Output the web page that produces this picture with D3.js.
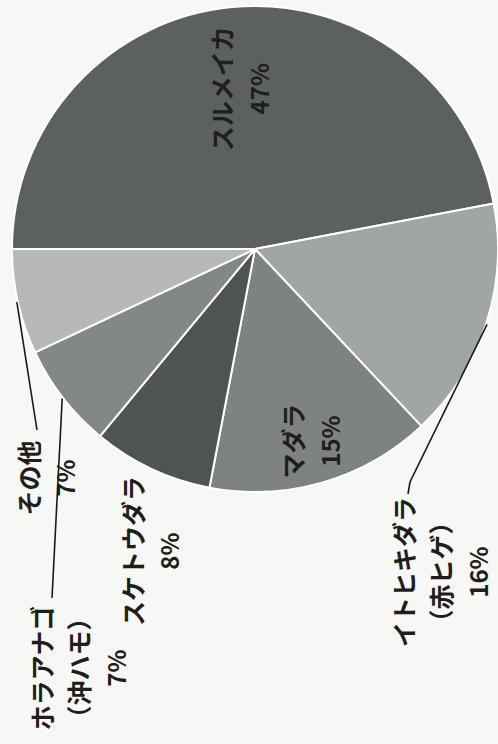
<!DOCTYPE html>
<html lang="ja">
<head>
<meta charset="utf-8">
<script src="https://cdn.jsdelivr.net/npm/d3@7"></script>
<style>
  html, body { margin: 0; padding: 0; background: #f7f7f5; }
  svg { display: block; }
  text { font-family: "Noto Sans CJK JP", "Noto Sans", sans-serif; fill: #1e1e1e; }
</style>
</head>
<body>
<script>
// 漁獲量の魚種別割合（%）
const species = ["スルメイカ", "イトヒキダラ", "マダラ", "スケトウダラ", "ホラアナゴ", "その他"];
const subNames = ["", "（赤ヒゲ）", "", "", "（沖ハモ）", ""];
const shares = [47, 16, 15, 8, 7, 7];
const fills = ["#5c615f", "#a1a6a4", "#7e8381", "#4f5452", "#838886", "#b6b9b7"];

const W = 498, H = 744;
const cx = 255, cy = 249, R = 243;

// Where each label block sits (centre of the rotated block) and its leader line.
const layout = {
  "スルメイカ":   { inside: true, r: 161 },
  "マダラ":       { inside: true, r: 200 },
  "イトヒキダラ": { x: 440, y: 572, leader: [[410, 482], [408, 494]] },
  "スケトウダラ": { x: 150, y: 551 },
  "ホラアナゴ":   { x: 78,  y: 668, leader: [[52, 598]] },
  "その他":       { x: 46,  y: 478, leader: [[37, 430]] }
};

const data = species.map((name, i) => ({ name, sub: subNames[i], value: shares[i], fill: fills[i] }));

const svg = d3.select("body").append("svg").attr("width", W).attr("height", H);

// The whole chart is turned a quarter turn: the first slice starts at the left edge.
const pie = d3.pie().sort(null).value(d => d.value)
  .startAngle(-Math.PI / 2).endAngle(Math.PI * 3 / 2);
const arcs = pie(data);
const arc = d3.arc().innerRadius(0).outerRadius(R);

const g = svg.append("g").attr("transform", `translate(${cx},${cy})`);

g.selectAll("path.slice").data(arcs).join("path")
  .attr("class", "slice")
  .attr("d", arc)
  .attr("fill", d => d.data.fill)
  .attr("stroke", "#ffffff")
  .attr("stroke-width", 2)
  .attr("stroke-linejoin", "round");

// Leader lines from the rim at each slice's mid angle
const polar = (a, r) => [cx + r * Math.sin(a), cy - r * Math.cos(a)];
const line = d3.line();
arcs.forEach(a => {
  const L = layout[a.data.name];
  if (!L.leader) return;
  const mid = (a.startAngle + a.endAngle) / 2;
  const pts = [polar(mid, R + 1), ...L.leader];
  svg.append("path")
    .attr("d", line(pts))
    .attr("fill", "none")
    .attr("stroke", "#1a1a1a")
    .attr("stroke-width", 1.6);
});

// Labels, written rotated so they read from bottom to top
const lineGap = 37;
arcs.forEach(a => {
  const L = layout[a.data.name];
  let x, y;
  if (L.inside) {
    const mid = (a.startAngle + a.endAngle) / 2;
    [x, y] = polar(mid, L.r);
  } else {
    x = L.x; y = L.y;
  }
  const lines = [a.data.name];
  if (a.data.sub) lines.push(a.data.sub);
  lines.push(a.data.value + "%");
  const n = lines.length;
  const t = svg.append("g")
    .attr("transform", `translate(${x},${y}) rotate(-90)`);
  lines.forEach((s, i) => {
    t.append("text")
      .attr("x", 0)
      .attr("y", (i - (n - 1) / 2) * lineGap)
      .attr("text-anchor", "middle")
      .attr("dominant-baseline", "central")
      .attr("font-size", i === n - 1 ? 24 : 25)
      .attr("font-weight", 700)
      .text(s);
  });
});
</script>
</body>
</html>
